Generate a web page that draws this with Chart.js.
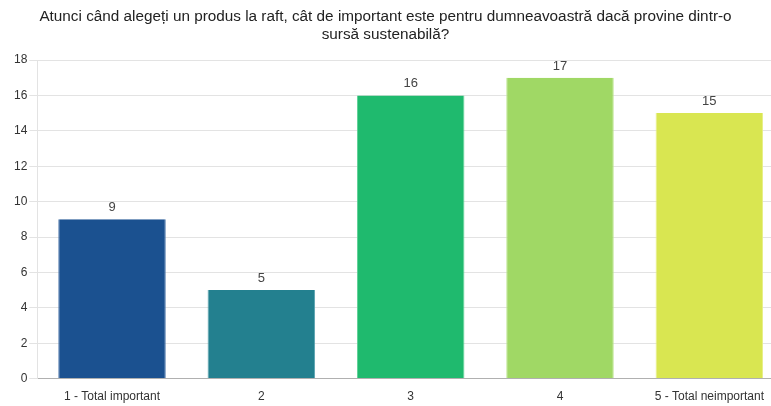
<!DOCTYPE html>
<html>
<head>
<meta charset="utf-8">
<script src="https://cdn.jsdelivr.net/npm/chart.js@4/dist/chart.umd.min.js"></script>
<style>
  html, body { margin: 0; padding: 0; background: #fff; overflow: hidden; }
  #wrap { position: relative; width: 771px; height: 406px; overflow: hidden; }
  #title {
    position: absolute; left: 0; top: 7px; width: 771px; text-align: center;
    font: 15.3px "Liberation Sans", Arial, sans-serif; color: #222; line-height: 18px;
    z-index: 2;
  }
  #box { position: absolute; left: 0; top: 0; width: 784px; height: 406px; }
</style>
</head>
<body>
<div id="wrap">
  <div id="title">Atunci când alegeți un produs la raft, cât de important este pentru dumneavoastră dacă provine dintr-o<br>sursă sustenabilă?</div>
  <div id="box"><canvas id="c"></canvas></div>
</div>
<script>
// DATA
const categories = ['1 - Total important', '2', '3', '4', '5 - Total neimportant'];
const counts = [9, 5, 16, 17, 15];
const barColors = ['#1b5190', '#23808f', '#1fba6e', '#a0d865', '#d9e651'];
const edgeColors = ['#4f79ad', '#5aa2ae', '#5cd094', '#bde690', '#e6ef85'];

// value labels on top of each bar
const topLabels = {
  id: 'topLabels',
  afterDatasetsDraw(chart) {
    const ctx = chart.ctx;
    const meta = chart.getDatasetMeta(0);
    ctx.save();
    ctx.font = '13px "Liberation Sans", Arial, sans-serif';
    ctx.fillStyle = '#444';
    ctx.textAlign = 'center';
    ctx.textBaseline = 'bottom';
    meta.data.forEach((bar, i) => {
      ctx.fillText(counts[i], bar.x, bar.y - 5);
    });
    ctx.restore();
  }
};

Chart.defaults.font.family = '"Liberation Sans", Arial, sans-serif';
Chart.defaults.color = '#333';

new Chart(document.getElementById('c'), {
  type: 'bar',
  data: {
    labels: categories,
    datasets: [{
      data: counts,
      backgroundColor: barColors,
      borderColor: edgeColors,
      borderWidth: { left: 1, right: 1, top: 0, bottom: 0 },
      barPercentage: 0.72,
      categoryPercentage: 1
    }]
  },
  options: {
    responsive: true,
    maintainAspectRatio: false,
    animation: false,
    layout: { padding: { top: 60, left: 12, right: 0, bottom: -9 } },
    plugins: {
      legend: { display: false },
      tooltip: { enabled: false },
      title: { display: false }
    },
    scales: {
      x: {
        grid: { display: false, drawTicks: false, tickLength: 0 },
        border: { color: '#b0b0b0', width: 1 },
        ticks: { font: { size: 12 }, color: '#333', padding: 11, maxRotation: 0, minRotation: 0 }
      },
      y: {
        min: 0, max: 18,
        ticks: { stepSize: 2, font: { size: 12 }, color: '#333', padding: 2 },
        grid: { color: '#e3e3e3', tickLength: 8 },
        border: { color: '#e3e3e3' }
      }
    }
  },
  plugins: [topLabels]
});
</script>
</body>
</html>
